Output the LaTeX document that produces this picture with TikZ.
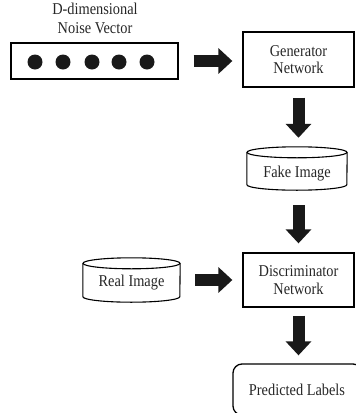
\documentclass[tikz,border=0pt]{standalone}
\usepackage{fontspec}
\setmainfont{Liberation Serif}[FakeStretch=0.87]
\usetikzlibrary{arrows.meta,calc}
\begin{document}
\begin{tikzpicture}[x=1pt,y=-1pt,
  every node/.style={font=\fontsize{16.5}{17.5}\selectfont, text=black!85},
  box/.style={draw, line width=1.3pt, inner sep=0pt, align=center},
  cylbody/.style={inner sep=0pt},
  cylline/.style={line width=1.1pt},
  blockarrow/.style={line width=12pt, black!90,
    -{Triangle[width=25pt,length=14pt]}}]
\useasboundingbox (0,0) rectangle (356,413);
\clip (0,0) rectangle (356,413);

% noise vector with its caption
\node[anchor=base] (cap1) at (95,14) {D-dimensional};
\node[anchor=base] (cap2) at (95,33) {Noise Vector};
\node[box, minimum width=167pt, minimum height=36pt] (noise) at (94.5,61) {};
\foreach \cx in {35,63,92,119,147}
  \fill[black!90] (\cx,62) circle[radius=7.5];

% generator and discriminator
\node[box, minimum width=111pt, minimum height=55pt] (gen) at (298.5,59.5)
  {Generator\\Network};
\node[box, minimum width=111pt, minimum height=54pt] (disc) at (298.5,280)
  {Discriminator\\Network};

% image stores drawn as cylinders
\node[cylbody, minimum width=100pt, minimum height=43pt] (fake) at (297,168.5) {};
\draw[cylline] ($(fake.north)+(0,5.5)$) ellipse [x radius=50, y radius=5.5];
\draw[cylline] ($(fake.north west)+(0,5.5)$) -- ($(fake.south west)+(0,-5.5)$)
  arc[start angle=180, end angle=0, x radius=50, y radius=5.5]
  -- ($(fake.north east)+(0,5.5)$);
\node (faketext) at (297,174) {Fake Image};

\node[cylbody, minimum width=97pt, minimum height=44pt] (real) at (131.5,280) {};
\draw[cylline] ($(real.north)+(0,5.5)$) ellipse [x radius=48.5, y radius=5.5];
\draw[cylline] ($(real.north west)+(0,5.5)$) -- ($(real.south west)+(0,-5.5)$)
  arc[start angle=180, end angle=0, x radius=48.5, y radius=5.5]
  -- ($(real.north east)+(0,5.5)$);
\node (realtext) at (131.5,283) {Real Image};

% output labels
\node[box, rounded corners=9pt, minimum width=129pt, minimum height=51pt] (pred)
  at (297.5,389.5) {};
\node (predtext) at (297,390) {Predicted Labels};

% flow arrows
\draw[blockarrow] ([xshift=15pt]noise.east) -- ([xshift=-10pt]noise.east -| gen.west);
\draw[blockarrow] ([yshift=-10pt]gen.south) -- ([yshift=9pt]gen.south |- fake.north);
\draw[blockarrow] ([yshift=-15pt]gen.south |- fake.south) -- ([yshift=9pt]disc.north);
\draw[blockarrow] ([xshift=15pt]real.east) -- ([xshift=-10pt]disc.west);
\draw[blockarrow] ([yshift=-8pt]disc.south) -- ([yshift=8pt]disc.south |- pred.north);
\end{tikzpicture}
\end{document}
